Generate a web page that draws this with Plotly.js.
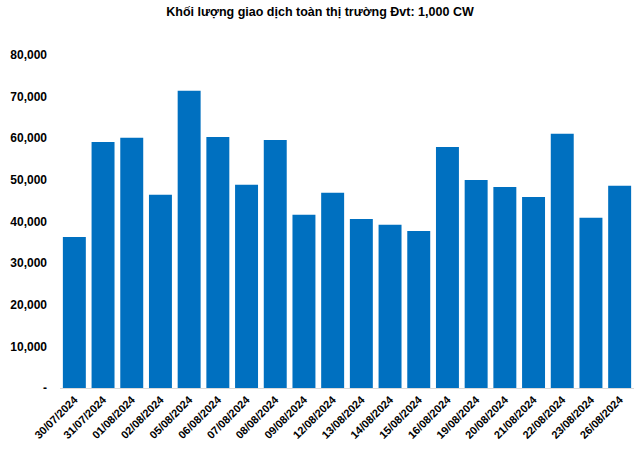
<!DOCTYPE html>
<html>
<head>
<meta charset="utf-8">
<script src="https://cdn.plot.ly/plotly-3.0.1.min.js"></script>
<style>html,body{margin:0;padding:0;background:#fff;}#chart{width:640px;height:450px;}</style>
</head>
<body>
<div id="chart"></div>
<script>
const dates = ["30/07/2024","31/07/2024","01/08/2024","02/08/2024","05/08/2024","06/08/2024","07/08/2024","08/08/2024","09/08/2024","12/08/2024","13/08/2024","14/08/2024","15/08/2024","16/08/2024","19/08/2024","20/08/2024","21/08/2024","22/08/2024","23/08/2024","26/08/2024"];
const volumes = [36300,59100,60100,46400,71400,60300,48800,59600,41600,46900,40600,39200,37700,57900,50000,48300,45900,61100,40900,48600];
const yTickVals = [0,10000,20000,30000,40000,50000,60000,70000,80000];
const yTickText = ["-","10,000","20,000","30,000","40,000","50,000","60,000","70,000","80,000"];
const titleText = "Khối lượng giao dịch toàn thị trường Đvt: 1,000 CW";

Plotly.newPlot("chart", [{
  type: "bar",
  x: dates,
  y: volumes,
  marker: {color: "#0070C0"},
  hoverinfo: "x+y"
}], {
  width: 640, height: 450,
  margin: {l: 60, r: 6, t: 55, b: 62},
  paper_bgcolor: "#fff", plot_bgcolor: "#fff",
  bargap: 0.2,
  showlegend: false,
  font: {family: "Liberation Sans, Arial, sans-serif", color: "#000"},
  title: {text: "<b>" + titleText + "</b>", x: 0.5, xanchor: "center", y: 0.983, yanchor: "top", font: {size: 12.5, color: "#000"}},
  xaxis: {
    type: "category",
    tickangle: -45,
    tickfont: {size: 11, color: "#000", weight: "bold"},
    showgrid: false,
    showline: true, linecolor: "#D9D9D9", linewidth: 1,
    ticks: "", zeroline: false
  },
  yaxis: {
    range: [0, 80000],
    tickvals: yTickVals,
    ticktext: yTickText,
    tickfont: {size: 12, color: "#000", weight: "bold"},
    showgrid: false, zeroline: false, showline: false,
    ticks: "", ticklabelstandoff: 12
  }
}, {displayModeBar: false, staticPlot: true});
</script>
</body>
</html>
